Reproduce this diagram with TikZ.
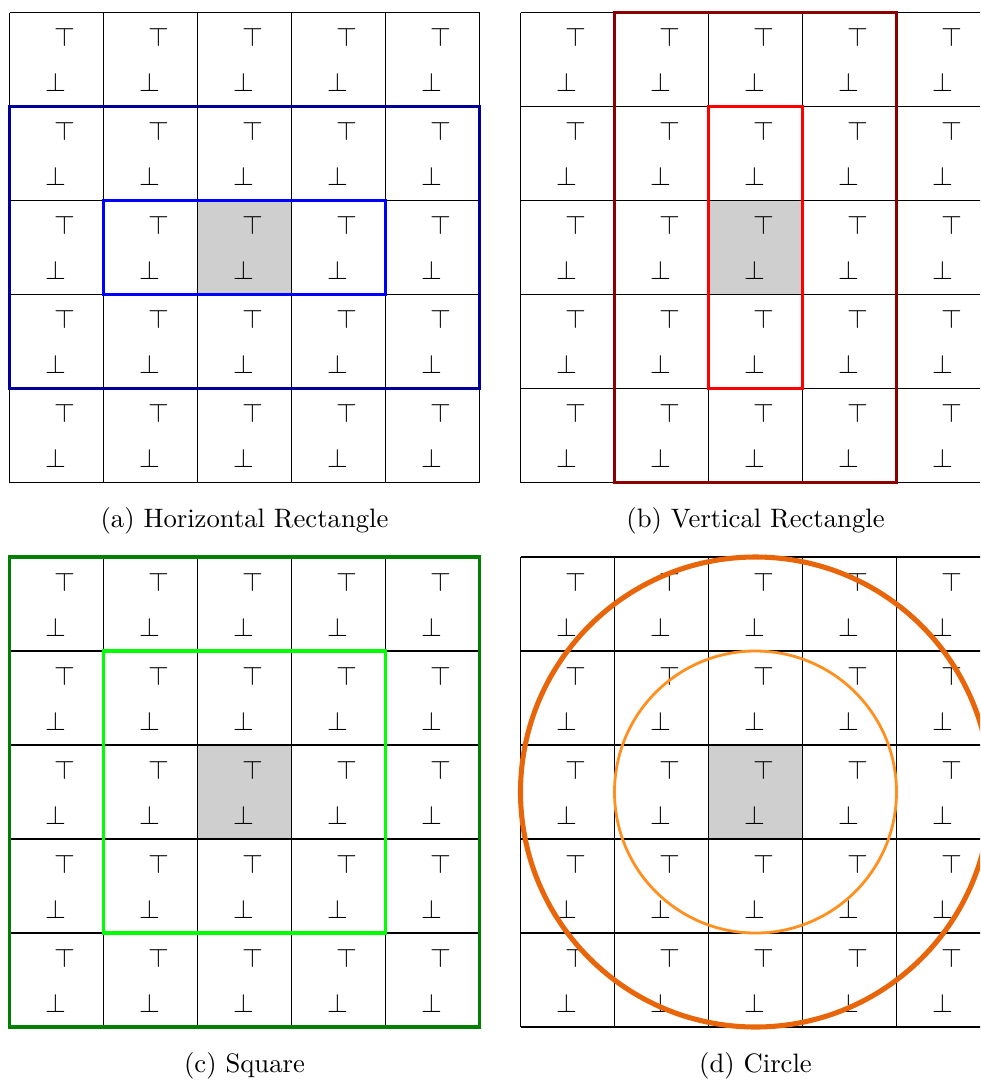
\documentclass[tikz,border=0pt]{standalone}
\usepackage{tikz}
\definecolor{darkblueA}{HTML}{000099}
\definecolor{blueA}{HTML}{0000FF}
\definecolor{darkredA}{HTML}{8B0000}
\definecolor{redA}{HTML}{FF0000}
\definecolor{darkgreenA}{HTML}{008000}
\definecolor{limeA}{HTML}{00FF00}
\definecolor{orangeOut}{HTML}{E8650A}
\definecolor{orangeIn}{HTML}{FF9020}
\definecolor{cellgray}{HTML}{CFCFCF}
\tikzset{
  gridline/.style={draw=black, line width=0.4pt},
  topsym/.style={inner sep=0pt, font=\normalsize},
  botsym/.style={inner sep=0pt, font=\normalsize},
  hl/.style={line width=1.25pt},
  caption/.style={inner sep=0pt, font=\normalsize},
}
\newcommand{\mypanel}[3]{%
  \fill[cellgray] (#1+188,#2+188) rectangle (#1+282,#2+282);
  \foreach \k in {0,...,5} {
    \draw[gridline] (#1+\k*94,#2) -- (#1+\k*94,#2+470);
    \draw[gridline] (#1,#2+\k*94) -- (#1+470,#2+\k*94);
  }
  \foreach \i in {0,...,4} {
    \foreach \j in {0,...,4} {
      \node[topsym] (#3t\i\j) at (#1+\i*94+55,#2+\j*94+25) {$\top$};
      \node[botsym] (#3b\i\j) at (#1+\i*94+46,#2+\j*94+70) {$\bot$};
    }
  }
}
\begin{document}
\begin{tikzpicture}[x=0.375pt,y=-0.375pt]
\path[use as bounding box, clip] (0,0) rectangle (980,1080);
% panel (a)
\mypanel{9.5}{12.5}{a}
\draw[hl, darkblueA] (9.5,106.5) rectangle (479.5,388.5);
\draw[hl, blueA] (103.5,200.5) rectangle (385.5,294.5);
\node[caption] (capa) at (244.5,521) {(a) Horizontal Rectangle};
% panel (b)
\mypanel{520.5}{12.5}{b}
\draw[hl, darkredA] (614.5,12.5) rectangle (896.5,482.5);
\draw[hl, redA] (708.5,106.5) rectangle (802.5,388.5);
\node[caption] (capb) at (755.5,521) {(b) Vertical Rectangle};
% panel (c)
\mypanel{9.5}{557}{c}
\draw[hl, darkgreenA] (9.5,557) rectangle (479.5,1027);
\draw[hl, limeA] (103.5,651) rectangle (385.5,933);
\node[caption] (capc) at (244.5,1066) {(c) Square};
% panel (d)
\mypanel{520.5}{557}{d}
\draw[line width=1.9pt, orangeOut] (755.5,792) circle[radius=235];
\draw[line width=1.05pt, orangeIn] (755.5,792) circle[radius=141];
\node[caption] (capd) at (755.5,1066) {(d) Circle};
\end{tikzpicture}
\end{document}
